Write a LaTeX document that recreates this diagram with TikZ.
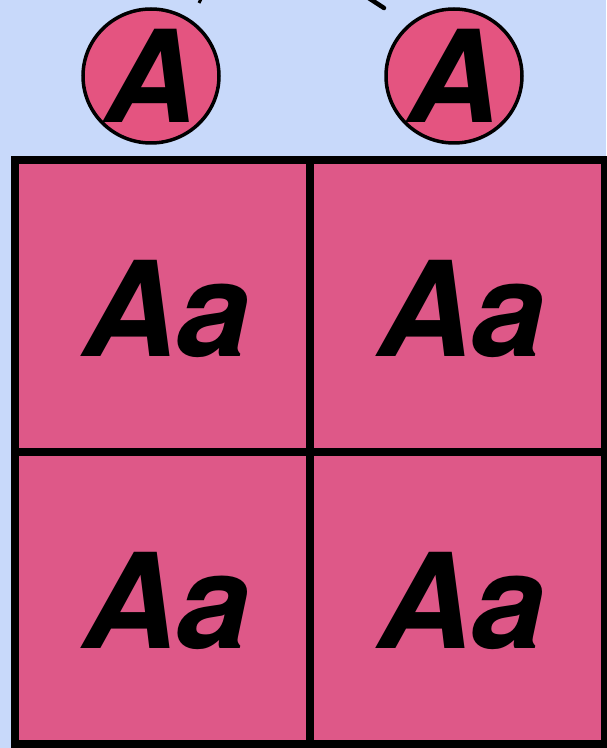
\documentclass[tikz,border=0pt]{standalone}
\usepackage{fontspec}
\setmainfont{TeX Gyre Heros}
\definecolor{skyback}{RGB}{200,217,250}
\definecolor{punnpink}{RGB}{222,88,136}
\definecolor{gamepink}{RGB}{228,84,128}
\usepackage{tikz}
\usetikzlibrary{shapes.geometric,positioning,arrows.meta}
\begin{document}
\begin{tikzpicture}[x=1pt,y=1pt,
  cell/.style={draw=black, line width=8pt, fill=punnpink,
    minimum width=295pt, minimum height=292pt, inner sep=0pt},
  cellgeno/.style={font=\fontsize{132}{132}\selectfont\bfseries\itshape},
  gamete/.style={ellipse, draw=black, line width=3.5pt, fill=gamepink,
    minimum width=136pt, minimum height=134pt, inner sep=0pt,
    font=\fontsize{128}{128}\selectfont\bfseries\itshape}]
  % fond
  \fill[skyback] (0,0) rectangle (606,748);
  \useasboundingbox (0,0) rectangle (606,748);
  % gametes
  \node[gamete] (gL) at (151,672) {A};
  \node[gamete] (gR) at (454,672) {A};
  % fleches venant du haut (coupees)
  \coordinate (fromL) at (222,790);
  \coordinate (fromR) at (330,775);
  \coordinate (toL) at (199,745);
  \coordinate (toR) at (384,740);
  \draw[line width=3pt] (fromL) -- (toL);
  \draw[line width=4.5pt, line cap=round] (fromR) -- (toR);
  % grille
  \node[cell] (c11) at (162.5,442) {};
  \node[cell] (c12) at (457.5,442) {};
  \node[cell] (c21) at (162.5,150) {};
  \node[cell] (c22) at (457.5,150) {};
  \foreach \c in {c11,c12,c21,c22}
    \node[cellgeno] at ([xshift=4pt,yshift=-3pt]\c.center) {Aa};
\end{tikzpicture}
\end{document}
